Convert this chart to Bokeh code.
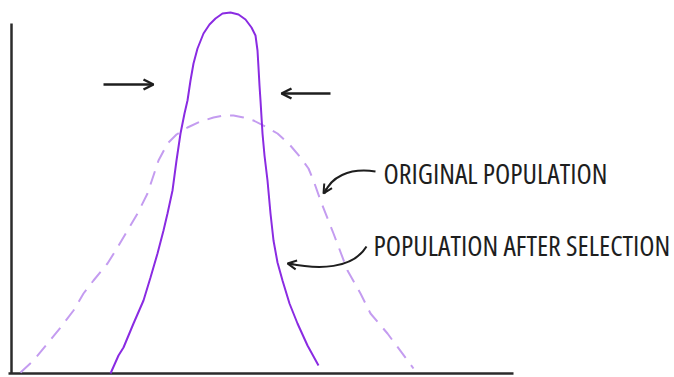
from bokeh.plotting import figure
from bokeh.models import Range1d, Label, Arrow, OpenHead, InlineStyleSheet
from bokeh.embed import file_html
from bokeh.resources import INLINE

# Trait value (x) and relative frequency (height above baseline) of each population
original_x = [20, 33, 47, 60, 73, 83, 93, 107, 117, 127, 137, 147, 158, 167, 176, 187, 200,
              213, 223, 233, 243, 253, 265, 277, 289, 300, 308, 313, 320, 333, 347, 360, 370,
              387, 413]
original_h = [1, 13, 30, 46, 63, 80, 93, 110, 126, 143, 160, 180, 213, 230, 239, 246, 252,
              256, 258, 258, 256, 253, 247, 240, 229, 216, 205, 193, 173, 140, 103, 80, 60,
              40, 5]

selected_x = [110, 118, 123, 133, 143, 150, 157, 163, 167, 172, 176, 180, 184, 187, 190, 193,
              197, 203, 209, 215, 222, 230, 238, 245, 251, 255, 257, 258, 259, 260, 262, 264,
              267, 270, 273, 277, 282, 289, 297, 307, 318]
selected_h = [0, 18, 26, 50, 73, 96, 120, 143, 160, 183, 213, 240, 260, 273, 293, 310,
              325, 340, 349, 355, 360, 361, 359, 354, 346, 338, 323, 306, 288, 273, 240, 218,
              193, 160, 133, 111, 93, 70, 50, 28, 8]

label_original = "ORIGINAL POPULATION"
label_selected = "POPULATION AFTER SELECTION"

AXIS = "#2b2b2b"
INK = "#1e1e1e"
SOLID = "#8a2be2"
DASHED = "#c49cf0"

# narrow, light lettering for the hand-lettered labels
narrow = InlineStyleSheet(css=":host { font-stretch: 75%; font-weight: 300; }")

p = figure(width=674, height=377, output_backend="svg", toolbar_location=None,
           x_range=Range1d(0, 674), y_range=Range1d(-4, 373),
           x_axis_type=None, y_axis_type=None, min_border=0, stylesheets=[narrow])
p.outline_line_color = None
p.grid.visible = False
p.background_fill_color = "white"
p.border_fill_color = "white"

# hand-drawn axes
p.line([11, 11], [0, 350], line_color=AXIS, line_width=2.5)
p.line([8, 513], [0, 0], line_color=AXIS, line_width=2.5)

# distributions
p.line(original_x, original_h, line_color=DASHED, line_width=2, line_dash="14 9")
p.line(selected_x, selected_h, line_color=SOLID, line_width=2)

# arrows showing the narrowing of the distribution
for xs, xe, y in [(103, 153, 289), (330, 281, 280)]:
    p.add_layout(Arrow(x_start=xs, y_start=y, x_end=xe, y_end=y,
                       line_color=INK, line_width=2.5,
                       end=OpenHead(size=10, line_color=INK, line_width=2.5)))

# curved pointers from the labels to the curves
p.bezier(x0=[375], y0=[202], x1=[324], y1=[180],
         cx0=[348], cy0=[206], cx1=[330], cy1=[196],
         line_color=INK, line_width=2)
p.add_layout(Arrow(x_start=326, y_start=185, x_end=323, y_end=180,
                   line_color=INK, line_width=2,
                   end=OpenHead(size=9, line_color=INK, line_width=2)))

p.bezier(x0=[366], y0=[127], x1=[288], y1=[110],
         cx0=[352], cy0=[104], cx1=[318], cy1=[104],
         line_color=INK, line_width=2)
p.add_layout(Arrow(x_start=293, y_start=109, x_end=287, y_end=110,
                   line_color=INK, line_width=2,
                   end=OpenHead(size=9, line_color=INK, line_width=2)))

# labels
for txt, x, y in [(label_original, 383, 201), (label_selected, 373, 129)]:
    p.add_layout(Label(x=x, y=y, text=txt, text_font="Open Sans",
                       text_font_size="28px", text_color=INK, text_baseline="middle"))

open("out.html", "w").write(file_html(p, INLINE))
